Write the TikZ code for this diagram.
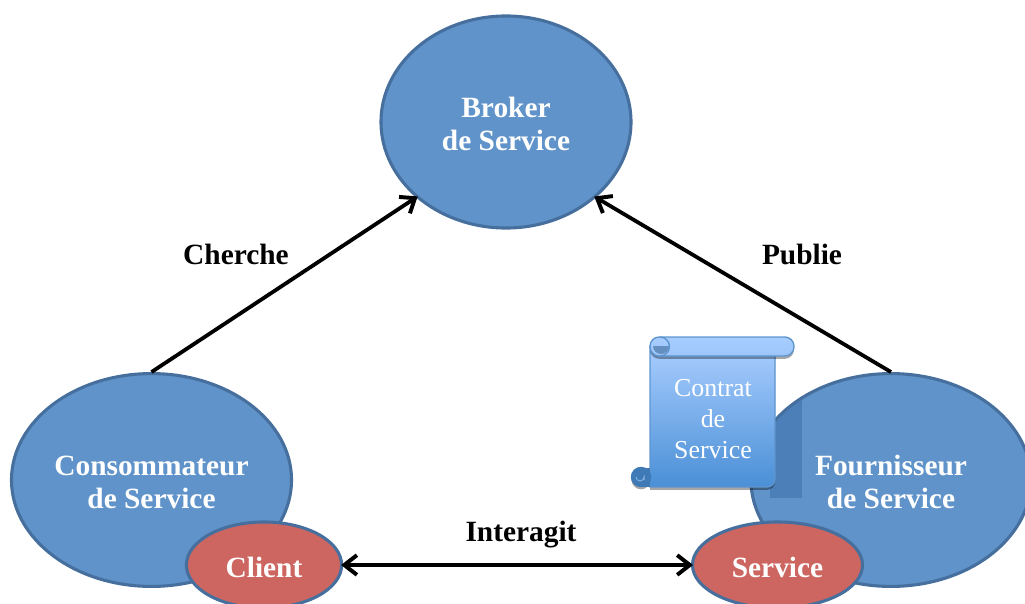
\documentclass[tikz,border=0pt]{standalone}
\usepackage{fontspec}
\setmainfont{Liberation Serif}
\usetikzlibrary{arrows.meta,shapes.geometric,shadows}
\definecolor{col}{HTML}{5F93C9}
\definecolor{colborder}{HTML}{466F9E}
\definecolor{colband}{HTML}{3A6CA8}
\definecolor{colred}{HTML}{CD6660}
\definecolor{colscrolltop}{HTML}{A8CDFF}
\definecolor{colscrollbottom}{HTML}{4A8FD6}
\definecolor{colscrollborder}{HTML}{5F95CF}
\newcommand{\firstline}{\rule{0pt}{17.4pt}}
\tikzset{
  oval/.style = {ellipse, draw = colborder, line width = 2.2pt, fill = col, text = white,
    font = \fontsize{20.9pt}{23.5pt}\selectfont\bfseries, align = center, inner sep = 0pt},
  actor/.style = {oval},
  role/.style = {oval, fill = colred},
  verb/.style = {font = \fontsize{20.9pt}{23.5pt}\selectfont\bfseries, text = black, inner sep = 0pt},
  barb/.tip = {Straight Barb[length = 9pt, width = 14pt, line width = 2.8pt]},
  link/.style = {line width = 2.7pt, shorten > = -1.5pt, -{barb}},
  scroll/.style = {draw = colscrollborder, line width = 1pt, top color = colscrolltop, bottom color = colscrollbottom},
  scrollshadow/.style = {drop shadow = {shadow xshift = 0pt, shadow yshift = -2pt, opacity = 0.35, fill = black}}
}
\begin{document}
\begin{tikzpicture}[x = 0.025cm, y = -0.025cm]
\useasboundingbox (0, 0) rectangle (1025, 604);
\node[actor, minimum width = 6.25cm, minimum height = 5.3cm] (broker) at (506, 122) {\firstline Broker\\de Service};
\node[actor, minimum width = 7cm, minimum height = 5.32cm] (consommateur) at (151.5, 480) {\firstline Consommateur\\de Service};
\node[actor, minimum width = 7cm, minimum height = 5.32cm] (fournisseur) at (891, 480) {\firstline Fournisseur\\de Service};
% darker band next to the scroll
\begin{scope}
\clip (891, 480) ellipse [x radius = 139, y radius = 105];
\fill[colband, opacity = 0.5] (770, 340) rectangle (802, 498);
\end{scope}
% scroll
\shade[scroll, scrollshadow]
  (650, 346) -- (650, 487) -- (767, 487) arc [start angle = 90, end angle = 0, radius = 8] -- (775, 346) -- cycle;
\fill[colscrollbottom!85!black, draw = colscrollbottom!85!black, line width = 1pt, scrollshadow]
  (641, 477) circle [radius = 9.5];
\fill[colscrollbottom!85!black] (641, 467.5) rectangle (650, 486.5);
\draw[colscrollbottom!70!white, line width = 0.7pt] (636, 477) arc [start angle = 180, end angle = 0, radius = 4] -- (644, 480);
\shade[scroll, rounded corners = 6.5pt, top color = colscrolltop, bottom color = colscrolltop!88!colscrollbottom, scrollshadow]
  (650, 337) rectangle (794, 356);
\fill[colscrollborder!80!black, opacity = 0.7] (653, 346) -- (669, 346) arc [start angle = 0, end angle = 180, radius = 8];
\draw[colscrollborder, line width = 1pt] (660, 337) arc [start angle = -90, end angle = 90, radius = 9.5];
\node[text = white, font = \fontsize{18.4pt}{22pt}\selectfont, align = center, inner sep = 0pt] (contrat) at (713, 419) {Contrat\\de\\Service};
% client and service
\node[role, minimum width = 3.88cm, minimum height = 2.15cm] (client) at (264, 565) {\firstline Client};
\node[role, minimum width = 4.25cm, minimum height = 2.15cm] (service) at (777.5, 565) {\firstline Service};
\draw[link] (consommateur.north) -- (broker.220);
\draw[link] (fournisseur.north) -- (broker.320);
\draw[link, shorten < = -1.5pt, {barb}-{barb}] (client.east) -- (service.west);
\node[verb] (cherche) at (236, 254) {Cherche};
\node[verb] (publie) at (802, 254) {Publie};
\node[verb] (interagit) at (521, 535) {Interagit};
\end{tikzpicture}
\end{document}
